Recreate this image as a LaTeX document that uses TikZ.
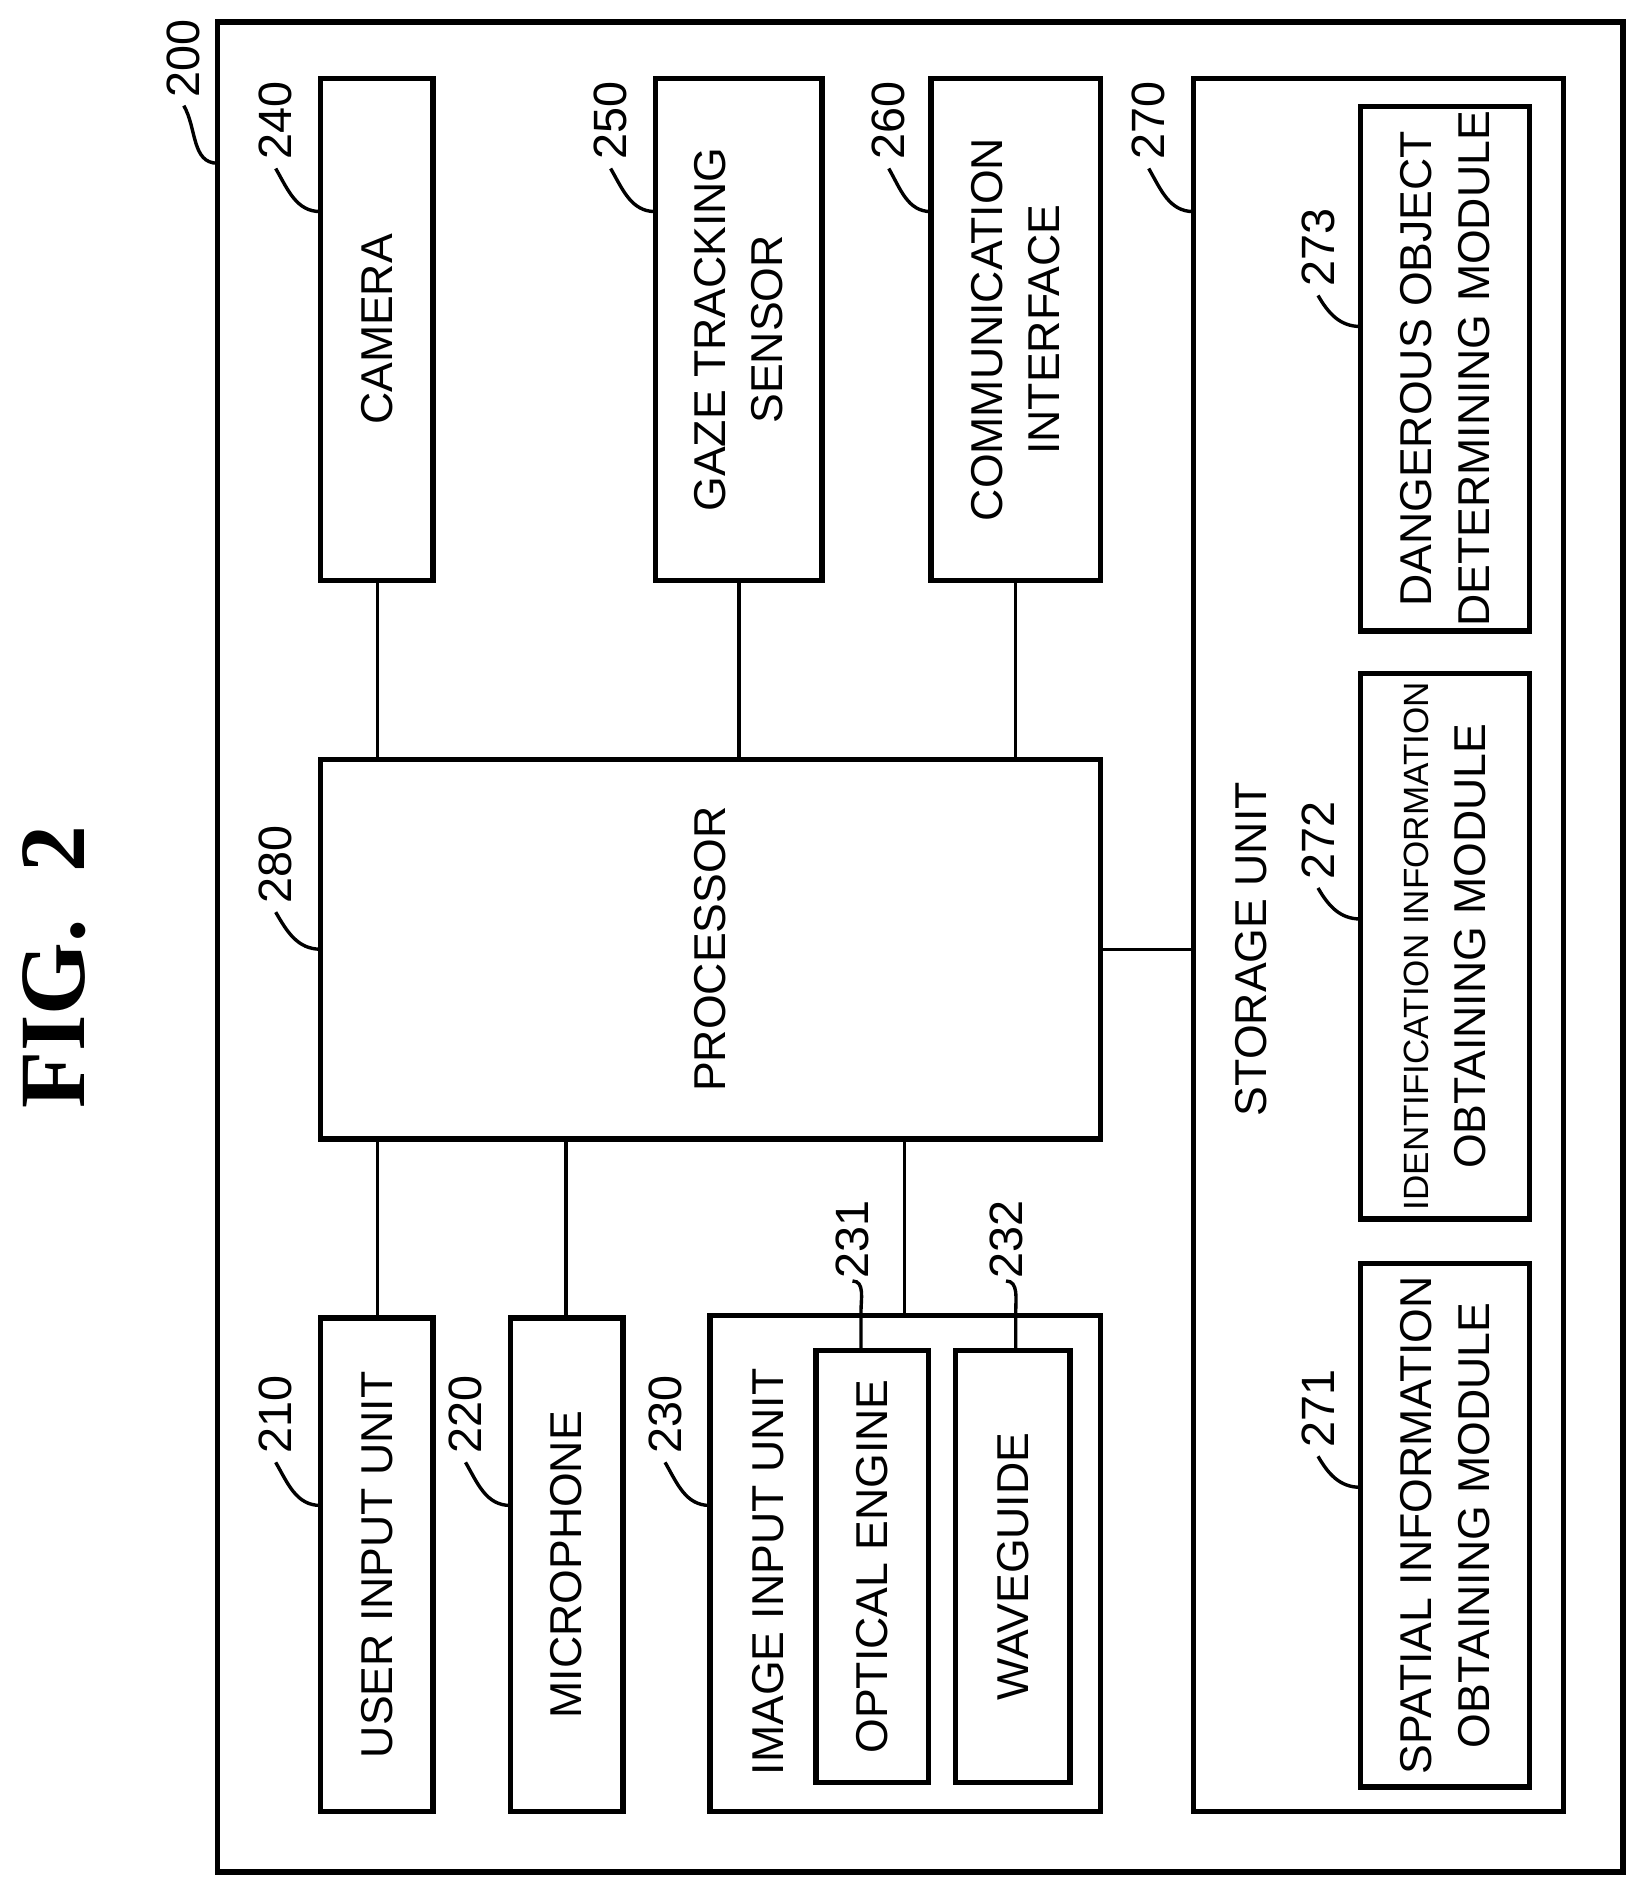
\documentclass[tikz,border=0pt]{standalone}
\usepackage{fontspec}
\setmainfont{Liberation Sans}
\usetikzlibrary{positioning}
\newfontfamily\figfont{Liberation Serif}
\tikzset{
  blk/.style={draw,line width=2.6pt,inner sep=0pt},
  txt/.style={rotate=90,align=center,font=\fontsize{21}{27}\selectfont},
  num/.style={rotate=90,font=\fontsize{22}{27}\selectfont,inner sep=1pt},
  lnk/.style={line width=1.6pt}
}
% reference number with its leader: attach point, label position, text
\newcommand\refnum[3]{%
  \node[num] (n#3) at (#2) {#3};
  \draw[lnk] (#1) to[out=180,in=-60] ([yshift=-0.1cm]n#3.west);
}
\begin{document}
\begin{tikzpicture}[x=0.02cm,y=-0.02cm]
  \useasboundingbox (0,0) rectangle (1360,1568);
  \node[rotate=90,font=\figfont\bfseries\fontsize{44}{50}\selectfont] (fig) at (45,800) {FIG.\ \ 2};
  % outer device
  \draw[blk] (180,18) rectangle (1342,1548);
  \refnum{180,135}{152,48}{200}
  % upper row
  \draw[blk] (265,65) rectangle (358,480) node[txt,midway] (cam) {CAMERA};
  \draw[blk] (542,65) rectangle (680,480) node[txt,midway] (gaze) {GAZE TRACKING\\SENSOR};
  \draw[blk] (770,65) rectangle (910,480) node[txt,midway] (comm) {COMMUNICATION\\INTERFACE};
  \refnum{265,175}{228,100}{240}
  \refnum{542,175}{505,100}{250}
  \refnum{770,175}{735,100}{260}
  % storage
  \draw[line width=2pt] (987,65) rectangle (1293,1498);
  \node[txt] (stor) at (1035,785) {STORAGE UNIT};
  \refnum{987,175}{950,100}{270}
  \draw[blk] (1125,88) rectangle (1265,522) node[txt,midway] (m273) {DANGEROUS OBJECT\\DETERMINING MODULE};
  \draw[blk] (1125,557) rectangle (1265,1008) node[txt,midway] (m272) {{\fontsize{16.5}{27}\selectfont IDENTIFICATION INFORMATION}\\OBTAINING MODULE};
  \draw[blk] (1125,1045) rectangle (1265,1478) node[txt,midway] (m271) {SPATIAL INFORMATION\\OBTAINING MODULE};
  \refnum{1125,270}{1090,205}{273}
  \refnum{1125,760}{1090,695}{272}
  \refnum{1125,1230}{1090,1165}{271}
  % processor
  \draw[blk] (265,628) rectangle (910,942) node[txt,midway] (proc) {PROCESSOR};
  \refnum{265,785}{228,715}{280}
  % lower row
  \draw[blk] (265,1090) rectangle (358,1498) node[txt,midway] (uin) {USER INPUT UNIT};
  \draw[blk] (422,1090) rectangle (515,1498) node[txt,midway] (mic) {MICROPHONE};
  \draw[blk] (587,1088) rectangle (910,1498);
  \node[txt] (img) at (635,1300) {IMAGE INPUT UNIT};
  \draw[blk] (675,1117) rectangle (768,1474) node[txt,midway] (opt) {OPTICAL ENGINE};
  \draw[blk] (790,1117) rectangle (885,1474) node[txt,midway] (wave) {WAVEGUIDE};
  \refnum{265,1245}{228,1170}{210}
  \refnum{422,1245}{385,1170}{220}
  \refnum{587,1245}{550,1170}{230}
  \node[num] (n231) at (705,1025) {231};
  \draw[lnk] (712,1117) -- (712,1085) to[out=90,in=0] (n231.west);
  \node[num] (n232) at (832,1025) {232};
  \draw[lnk] (840,1117) -- (840,1085) to[out=90,in=0] (n232.west);
  % connections
  \draw[lnk] (312,480) -- (312,628);
  \draw[lnk] (611,480) -- (611,628);
  \draw[lnk] (840,480) -- (840,628);
  \draw[lnk] (910,785) -- (987,785);
  \draw[lnk] (312,942) -- (312,1090);
  \draw[lnk] (468,942) -- (468,1090);
  \draw[lnk] (748,942) -- (748,1088);
\end{tikzpicture}
\end{document}
